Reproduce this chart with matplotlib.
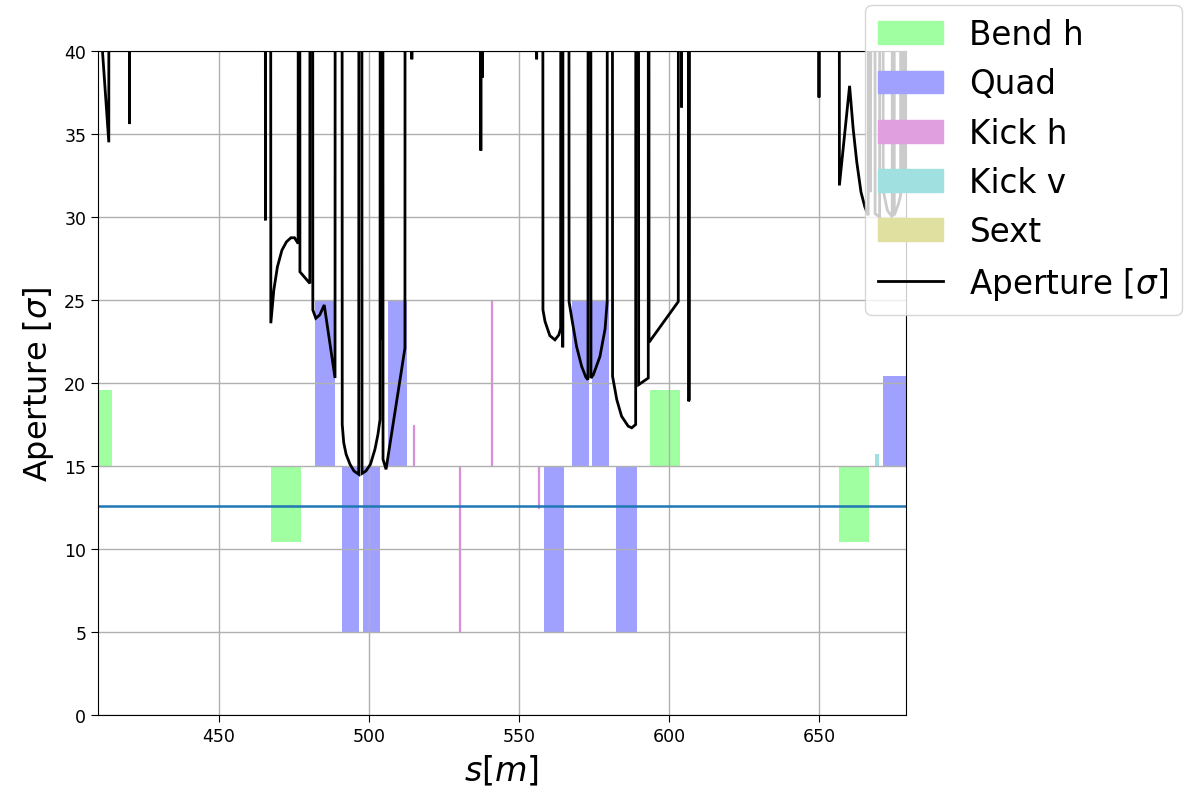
import numpy as np
import matplotlib.pyplot as plt
import matplotlib.patches as mpatches
from matplotlib.lines import Line2D

# --- magnet data (start s [m], length [m], box height) ---
bend_s = [405.0, 467.3, 593.7, 656.8]
bend_len = [9.3, 10.0, 10.1, 10.0]
bend_h = [4.6, -4.6, 4.6, -4.6]

quad_s = [482.0, 490.9, 497.9, 506.2, 558.4, 567.6, 574.3, 582.4, 671.2]
quad_len = [6.7, 5.9, 5.8, 6.4, 6.7, 5.8, 5.8, 6.8, 9.0]
quad_h = [10, -10, -10, 10, -10, 10, 10, -10, 5.4]

kickh_s = [514.7, 530.0, 540.6, 556.3]
kickh_len = [0.3, 0.3, 0.3, 0.3]
kickh_h = [2.5, -10, 10, -2.5]

kickv_s = [668.7]
kickv_len = [1.3]
kickv_h = [0.75]

base = 15.0
ref_level = 12.6

# --- aperture along s (values above 40 are off the top of the plot) ---
H = 80.0
ap_s = [405.0, 410.8, 413.3, 413.4,
        420.1, 420.2, 420.3,
        465.4, 465.5, 465.6,
        467.2, 467.3, 468.3, 469.5, 471.0, 472.5, 474.0, 475.2, 476.4, 476.5,
        476.9, 477.0, 480.3, 480.4, 481.2, 481.3, 482.3, 483.6, 485.1, 488.7, 488.8,
        491.0, 491.1, 491.6, 492.4, 493.7, 495.0, 496.6, 496.7, 497.6,
        497.7, 499.0, 500.5, 502.0, 503.0, 503.7, 503.8, 503.9, 504.0,
        504.6, 504.7, 505.7, 512.0, 512.1,
        514.2, 514.3, 514.4,
        537.2, 537.3, 537.4, 537.7, 537.8, 537.9,
        555.8, 555.9, 556.0,
        557.9, 558.0, 558.7, 560.3, 562.0, 563.3, 563.9, 564.0, 564.5, 564.6, 564.7,
        566.6, 566.7, 567.6, 569.2, 570.9, 572.3, 573.0, 573.1, 573.9,
        574.0, 574.8, 577.0, 578.7, 579.4, 579.5,
        581.1, 581.2, 582.6, 584.2, 586.4, 587.6, 588.9, 589.0, 589.8,
        589.9, 593.1, 593.15, 593.3, 593.35, 603.1, 603.2,
        604.1, 604.2, 604.3,
        606.4, 606.5, 606.8, 606.9,
        649.9, 650.0, 650.1,
        656.7, 656.8, 660.2, 661.4, 662.6, 664.0, 665.3, 666.4, 666.5,
        667.0, 667.1, 668.0, 668.6, 668.7, 670.2, 670.3, 671.3,
        671.4, 672.8, 674.4, 674.5, 675.0, 675.1, 676.5, 677.2, 677.3, 677.8,
        677.9, 678.6, 679.5, 682.0]
ap_a = [H, 41.0, 34.5, H,
        H, 35.6, H,
        H, 29.8, H,
        H, 23.6, 25.6, 27.0, 28.0, 28.5, 28.75, 28.75, 28.4, H,
        H, 26.7, 26.0, H, H, 24.4, 23.9, 24.1, 24.7, 20.3, H,
        H, 17.5, 16.4, 15.7, 15.1, 14.7, 14.5, H, H,
        14.55, 14.7, 15.1, 16.0, 16.9, 17.8, H, 22.6, H,
        H, 15.4, 14.8, 22.1, H,
        H, 39.5, H,
        H, 34.0, H, H, 38.4, H,
        H, 39.5, H,
        H, 24.4, 23.7, 22.85, 22.6, 22.9, 23.3, H, H, 22.15, H,
        H, 24.9, 23.9, 22.2, 21.0, 20.35, 20.2, H, H,
        20.3, 20.5, 21.6, 23.25, 24.9, H,
        H, 20.4, 19.0, 18.0, 17.4, 17.3, 17.5, H, H,
        19.9, 20.3, H, H, 22.45, 24.9, H,
        H, 36.6, H,
        H, 18.9, 19.0, H,
        H, 37.2, H,
        H, 31.9, 37.9, 35.3, 33.3, 31.5, 30.6, 30.1, H,
        H, 31.5, H, H, 30.2, 30.0, H, H,
        31.6, 30.4, 30.0, H, H, 30.1, 30.8, 31.3, H, H,
        31.6, 33.0, H, H]

colors = {'Bend h': '#a0ffa0', 'Quad': '#a0a0ff', 'Kick h': '#e0a0e0',
          'Kick v': '#a0e0e0', 'Sext': '#e0e0a0'}

fig = plt.figure(figsize=(11.89, 8.03), dpi=100)
ax = fig.add_axes([98 / 1189, 1 - 716 / 803, 808 / 1189, 664 / 803])

ax.bar(bend_s, bend_h, width=bend_len, bottom=base, align='edge',
       color=colors['Bend h'], linewidth=0)
ax.bar(quad_s, quad_h, width=quad_len, bottom=base, align='edge',
       color=colors['Quad'], linewidth=0)
# thin kickers get an edge of the same colour so they stay visible
ax.bar(kickh_s, kickh_h, width=kickh_len, bottom=base, align='edge',
       color=colors['Kick h'], edgecolor='#d890d8', linewidth=0.9)
ax.bar(kickv_s, kickv_h, width=kickv_len, bottom=base, align='edge',
       color=colors['Kick v'], linewidth=0)

ax.plot(ap_s, ap_a, color='black', lw=2.0, solid_joinstyle='miter')
ax.axhline(ref_level, color='tab:blue', lw=1.8)

ax.set_xlim(409.7, 679.0)
ax.set_ylim(0, 40)
ax.set_xticks([450, 500, 550, 600, 650])
ax.set_yticks(np.arange(0, 41, 5))
ax.tick_params(labelsize=12.5, length=5)
ax.grid(True, color='#b0b0b0', lw=1.0)
ax.set_xlabel('$s[m]$', fontsize=24, labelpad=6)
ax.set_ylabel('Aperture [$\\sigma$]', fontsize=23, labelpad=6)

handles = [mpatches.Patch(color=colors[k], label=k) for k in colors]
handles.append(Line2D([], [], color='black', lw=2.0, label='Aperture [$\\sigma$]'))
ax.legend(handles=handles, loc='upper left', fontsize=23.5, borderaxespad=0,
          bbox_to_anchor=(865 / 1189, 1 - 6 / 803), bbox_transform=fig.transFigure)

fig.savefig('out.png', dpi=100)
